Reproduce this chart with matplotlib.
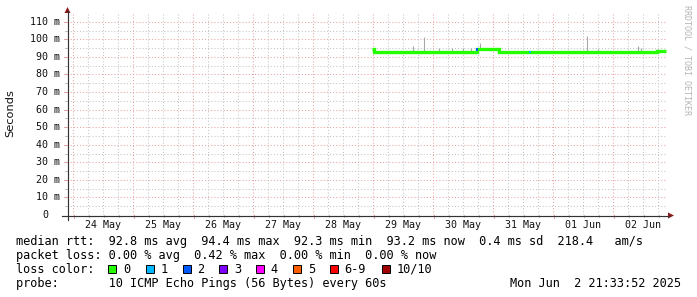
import matplotlib
matplotlib.use("Agg")
import matplotlib.pyplot as plt
import matplotlib.dates as mdates
from matplotlib.patches import Rectangle, Polygon
from datetime import datetime, timedelta
import numpy as np

W, H, DPI = 697, 297, 100

# ---------------- data ----------------
t_start = datetime(2025, 5, 23, 21, 33, 52)
t_end = datetime(2025, 6, 2, 21, 33, 52)
data_t0 = datetime(2025, 5, 28, 23, 34)

med_hours = [0, 0.6, 2, 4, 6, 8, 10, 12, 14, 16, 18, 20, 22, 24, 26, 28, 30, 32,
             34, 36, 38, 40, 42, 44, 46, 48, 50, 50.8, 52, 54, 56, 58, 60, 62, 64,
             66, 68, 70, 72, 74, 76, 78, 80, 82, 84, 86, 88, 90, 92, 94, 96, 98,
             100, 102, 104, 106, 108, 110, 112, 114, 116, 117.6]
med_ms = [94.6, 92.8, 92.7, 92.7, 92.7, 92.8, 92.7, 92.7, 92.7, 92.8, 92.7, 92.7,
          92.8, 92.7, 92.7, 92.7, 92.8, 92.7, 92.7, 92.7, 92.7, 92.7, 94.3, 94.4,
          94.3, 94.3, 94.3, 92.8, 92.9, 92.8, 92.7, 92.8, 92.7, 92.7, 92.7, 92.8,
          92.7, 92.7, 92.7, 92.7, 92.6, 92.7, 92.7, 92.7, 92.6, 92.7, 92.6, 92.7,
          92.7, 92.7, 92.7, 92.7, 92.7, 92.8, 92.7, 92.7, 92.7, 92.8, 92.9, 93.1,
          93.2, 93.2]

spike_hours = [16.4, 20.8, 26.8, 32.0, 36.4, 39.6, 43.2, 86.0, 90.4, 106.4, 107.6]
spike_ms = [96.3, 101.3, 95.0, 94.8, 95.2, 94.9, 97.8, 101.7, 94.5, 96.0, 95.0]

loss_hours = [42.0, 63.2]
loss_count = [2, 1]

day_labels = ["24 May", "25 May", "26 May", "27 May", "28 May", "29 May",
              "30 May", "31 May", "01 Jun", "02 Jun"]
first_day = datetime(2025, 5, 24)
y_values = [0, 10, 20, 30, 40, 50, 60, 70, 80, 90, 100, 110]

stat_lines = [
    "median rtt:  92.8 ms avg  94.4 ms max  92.3 ms min  93.2 ms now  0.4 ms sd  218.4   am/s",
    "packet loss: 0.00 % avg  0.42 % max  0.00 % min  0.00 % now",
]
probe_text = "probe:       10 ICMP Echo Pings (56 Bytes) every 60s"
date_text = "Mon Jun  2 21:33:52 2025"
loss_labels = ["0", "1", "2", "3", "4", "5", "6-9", "10/10"]
loss_colors = ["#26ff00", "#00b8ff", "#0059ff", "#7e00ff", "#ff00ff",
               "#ff5e00", "#ff0000", "#a10000"]

# ---------------- figure ----------------
MONO = "DejaVu Sans Mono"
fig = plt.figure(figsize=(W / DPI, H / DPI), dpi=DPI, facecolor="white")

PL, PR, PB, PT = 67, 667, 215, 13
ax = fig.add_axes([PL / W, (H - PB) / H, (PR - PL) / W, (PB - PT) / H])
x0n, x1n = mdates.date2num(t_start), mdates.date2num(t_end)
ax.set_xlim(x0n, x1n)
ax.set_ylim(0, 115)
ax.set_axis_off()

RED_GRID = "#eba3a3"
GRAY_GRID = "#c4c4c4"
dots = (0, (1, 2))

# horizontal grid
for v in range(5, 115, 5):
    if v % 10 == 0:
        ax.axhline(v, color=RED_GRID, lw=0.75, ls=dots, zorder=1)
    else:
        ax.axhline(v, color=GRAY_GRID, lw=0.75, ls=dots, zorder=1)
# vertical grid every 6 h
g = datetime(2025, 5, 24)
while g < t_end:
    xn = mdates.date2num(g)
    if g.hour == 0:
        ax.axvline(xn, color=RED_GRID, lw=0.75, ls=dots, zorder=1)
    else:
        ax.axvline(xn, color=GRAY_GRID, lw=0.75, ls=dots, zorder=1)
    g += timedelta(hours=6)

# data
tnum = np.array([mdates.date2num(data_t0 + timedelta(hours=h)) for h in med_hours])
med = np.array(med_ms)
sp_t = np.array([mdates.date2num(data_t0 + timedelta(hours=h)) for h in spike_hours])
sp_base = np.interp(sp_t, tnum, med)
ax.vlines(sp_t, sp_base, spike_ms, color="#a8a8a8", lw=0.8, zorder=2)
ax.step(tnum, med, where="post", color=loss_colors[0], lw=2.4, zorder=3,
        solid_capstyle="butt", solid_joinstyle="miter")
lt = np.array([mdates.date2num(data_t0 + timedelta(hours=h)) for h in loss_hours])
lm = np.interp(lt, tnum, med)
ax.scatter(lt, lm, s=3, marker="s", c=[loss_colors[c] for c in loss_count],
           linewidths=0, zorder=4)

# ---------------- overlay in pixel coordinates ----------------
ov = fig.add_axes([0, 0, 1, 1], zorder=5)
ov.set_xlim(0, W)
ov.set_ylim(H, 0)
ov.set_axis_off()
ov.patch.set_alpha(0)

def px_x(xn):
    return PL + (xn - x0n) / (x1n - x0n) * (PR - PL)

def px_y(v):
    return PB - v / 115 * (PB - PT)

# small ticks
g = datetime(2025, 5, 24)
while g < t_end:
    xp = round(px_x(mdates.date2num(g))) + 0.5
    if g.hour == 0:
        ov.plot([xp, xp], [PB, PB + 3], color=RED_GRID, lw=0.75)
    else:
        ov.plot([xp, xp], [PB, PB + 2], color=GRAY_GRID, lw=0.75)
    g += timedelta(hours=6)
for v in range(5, 115, 5):
    yp = px_y(v)
    if v % 10 == 0:
        ov.plot([PL - 3, PL], [yp, yp], color=RED_GRID, lw=0.75)
    else:
        ov.plot([PL - 2, PL], [yp, yp], color=GRAY_GRID, lw=0.75)

# axis lines with arrows
AX_COL = "#333333"
ARROW = "#8b1a1a"
ov.plot([PL + 0.5, PL + 0.5], [PB + 5, 11], color=AX_COL, lw=0.85)
ov.plot([PL - 5, 669], [PB + 0.5, PB + 0.5], color=AX_COL, lw=0.85)
ov.add_patch(Polygon([[PL - 2.5, 13], [PL + 3.5, 13], [PL + 0.5, 7]],
                     closed=True, color=ARROW, lw=0))
ov.add_patch(Polygon([[668, PB - 2.5], [668, PB + 3.5], [674, PB + 0.5]],
                     closed=True, color=ARROW, lw=0))

# y tick labels
for v in y_values:
    lab = "0" if v == 0 else f"{v} m"
    xr = 48 if v == 0 else 60.5
    ov.text(xr, px_y(v), lab, ha="right", va="center", family=MONO,
            fontsize=7.2, color="#111111")

# x tick labels (centered at noon)
for i, lab in enumerate(day_labels):
    xn = mdates.date2num(first_day + timedelta(days=i, hours=12))
    ov.text(px_x(xn), 225.5, lab, ha="center", va="center", family=MONO,
            fontsize=7.2, color="#111111")

# y axis title
ov.text(10.5, 113, "Seconds", rotation=90, ha="center", va="center",
        family="DejaVu Sans", fontsize=8.2, color="#111111")

# watermark
ov.text(686.5, 5, "RRDTOOL / TOBI OETIKER", rotation=270, ha="center", va="top",
        family=MONO, fontsize=6, color="#b4b4b4")

# stats
FS = 8.55
ov.text(15.5, 241.5, stat_lines[0], ha="left", va="center", family=MONO, fontsize=FS)
ov.text(15.5, 255.5, stat_lines[1], ha="left", va="center", family=MONO, fontsize=FS)
ov.text(15.5, 269.5, "loss color:", ha="left", va="center", family=MONO, fontsize=FS)
box_x = [108.3, 145.7, 182.7, 219.3, 256, 293.3, 330, 381.7]
for bx, lab, col in zip(box_x, loss_labels, loss_colors):
    ov.add_patch(Rectangle((bx, 265), 8, 8, facecolor=col, edgecolor="black", lw=0.7))
    ov.text(bx + 14.5, 269.5, lab, ha="left", va="center", family=MONO, fontsize=FS)
ov.text(15.5, 283.5, probe_text, ha="left", va="center", family=MONO, fontsize=FS)
ov.text(681.5, 283.5, date_text, ha="right", va="center", family=MONO, fontsize=FS)

fig.savefig("out.png", dpi=DPI, facecolor="white")
